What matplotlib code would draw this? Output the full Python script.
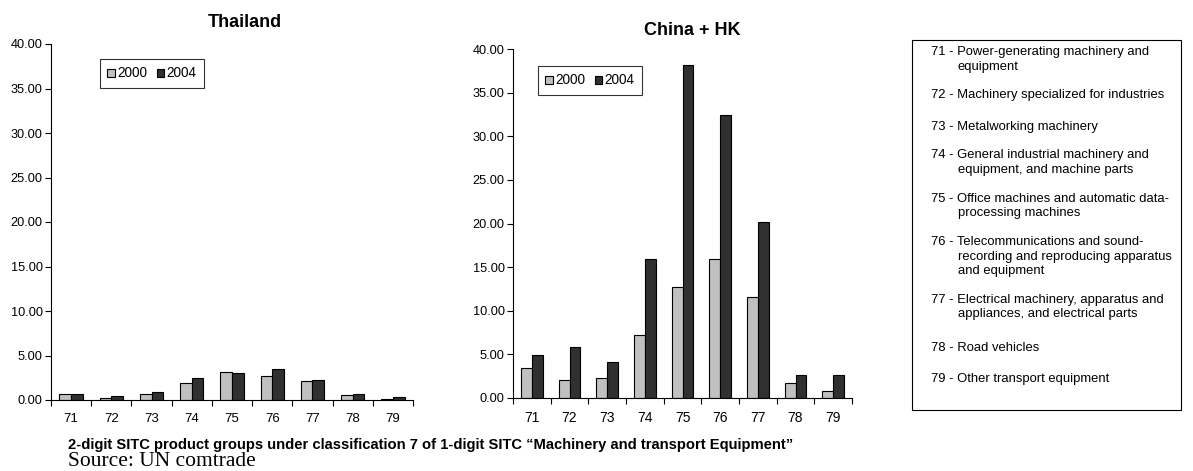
import matplotlib
matplotlib.use("Agg")
import matplotlib.pyplot as plt
from matplotlib.patches import Rectangle
import numpy as np

categories = ["71", "72", "73", "74", "75", "76", "77", "78", "79"]
years = ["2000", "2004"]
thailand_2000 = [0.64, 0.26, 0.64, 1.95, 3.11, 2.70, 2.10, 0.52, 0.11]
thailand_2004 = [0.71, 0.41, 0.86, 2.47, 3.00, 3.48, 2.20, 0.64, 0.34]
china_2000 = [3.44, 2.06, 2.33, 7.19, 12.77, 15.95, 11.55, 1.68, 0.84]
china_2004 = [4.97, 5.81, 4.13, 15.90, 38.13, 32.43, 20.15, 2.60, 2.68]
yticks = [0, 5, 10, 15, 20, 25, 30, 35, 40]

descriptions = [
    ["71 - Power-generating machinery and", "equipment"],
    ["72 - Machinery specialized for industries"],
    ["73 - Metalworking machinery"],
    ["74 - General industrial machinery and", "equipment, and machine parts"],
    ["75 - Office machines and automatic data-", "processing machines"],
    ["76 - Telecommunications and sound-", "recording and reproducing apparatus", "and equipment"],
    ["77 - Electrical machinery, apparatus and", "appliances, and electrical parts"],
    ["78 - Road vehicles"],
    ["79 - Other transport equipment"],
]
caption = "2-digit SITC product groups under classification 7 of 1-digit SITC \u201cMachinery and transport Equipment\u201d"
source = "Source: UN comtrade"

W, H = 1193, 471
fig = plt.figure(figsize=(W / 100, H / 100), dpi=100)
plt.rcParams['font.family'] = ['Liberation Sans', 'DejaVu Sans']

C2000 = "#C0C0C0"
C2004 = "#303030"
NARROW = ['Liberation Sans Narrow', 'Liberation Sans']


def px_axes(x0, y0, x1, y1):
    return fig.add_axes([x0 / W, 1 - y1 / H, (x1 - x0) / W, (y1 - y0) / H])


def draw_panel(ax, v0, v1, title, title_xy, leg_xy, xfs):
    x = np.arange(len(categories))
    bw = 0.29
    ax.bar(x - bw / 2, v0, bw, color=C2000, edgecolor="black", linewidth=0.8, label=years[0])
    ax.bar(x + bw / 2, v1, bw, color=C2004, edgecolor="black", linewidth=0.8, label=years[1])
    ax.set_xlim(-0.5, len(categories) - 0.5)
    ax.set_ylim(0, 40)
    ax.set_yticks(yticks)
    ax.set_yticklabels([f"{t:.2f}" for t in yticks], fontsize=9.2)
    ax.set_xticks(x)
    ax.set_xticklabels(categories, fontsize=xfs, family=NARROW)
    ax.set_xticks(np.arange(len(categories) + 1) - 0.5, minor=True)
    ax.tick_params(axis="x", which="major", length=0, pad=9)
    ax.tick_params(axis="x", which="minor", length=4, width=0.8, direction="out")
    ax.tick_params(axis="y", length=4, width=0.8, direction="out", pad=2)
    for s in ["top", "right"]:
        ax.spines[s].set_visible(False)
    for s in ["left", "bottom"]:
        ax.spines[s].set_linewidth(0.8)
    fig.text(title_xy[0] / W, 1 - title_xy[1] / H, title, ha="center", va="baseline",
             fontsize=13, fontweight="bold")
    leg = ax.legend(loc="upper left", bbox_to_anchor=(leg_xy[0] / W, 1 - leg_xy[1] / H),
                    bbox_transform=fig.transFigure, ncol=2, fontsize=9.8, frameon=True,
                    fancybox=False, edgecolor="black", handlelength=0.55, handleheight=0.55,
                    handletextpad=0.15, columnspacing=0.7, borderpad=0.55, borderaxespad=0)
    leg.get_frame().set_linewidth(0.8)


ax1 = px_axes(51, 44, 413, 400)
draw_panel(ax1, thailand_2000, thailand_2004, "Thailand", (245, 26.7), (100, 59), 9.5)
ax2 = px_axes(513, 49, 852, 398)
draw_panel(ax2, china_2000, china_2004, "China + HK", (692, 35), (538, 66), 10)

# description box
fig.patches.append(Rectangle((912 / W, 1 - 410 / H), (1181 - 912) / W, (410 - 40) / H,
                             transform=fig.transFigure, fill=False, edgecolor="black",
                             linewidth=0.8))
entry_y = [51.7, 94.3, 126.7, 155, 198.3, 241.7, 299.3, 347.3, 379]
line_h = 14.6
for y0, lines in zip(entry_y, descriptions):
    for i, ln in enumerate(lines):
        xx = 931 if i == 0 else 958
        fig.text(xx / W, 1 - (y0 + 3.4 + i * line_h) / H, ln, ha="left", va="baseline",
                 fontsize=9.4)

fig.text(68 / W, 1 - 449.5 / H, caption, ha="left", va="baseline", fontsize=10.6,
         fontweight="bold", family=NARROW)
fig.text(68 / W, 1 - 466.5 / H, source, ha="left", va="baseline", fontsize=15.5,
         family=['Liberation Serif', 'DejaVu Serif'])

fig.savefig("out.png", dpi=100)
